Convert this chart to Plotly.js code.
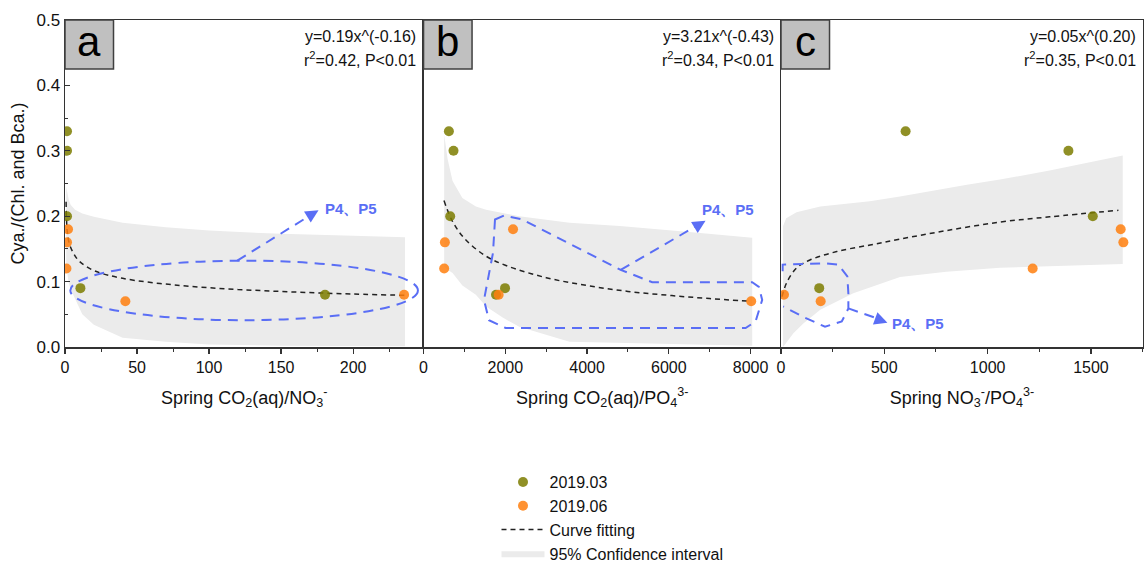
<!DOCTYPE html>
<html>
<head>
<meta charset="utf-8">
<script src="https://cdn.plot.ly/plotly-3.0.1.min.js"></script>
<style>html,body{margin:0;padding:0;background:#fff;}#chart{width:1144px;height:561px;}</style>
</head>
<body>
<div id="chart"></div>
<script>
// ---------- Panel a : Spring CO2(aq)/NO3- ----------
const aOliveX = [1.4, 1.4, 1.4, 10.7, 180.5];
const aOliveY = [0.33, 0.30, 0.20, 0.09, 0.08];
const aOrangeX = [2.1, 1.4, 1.0, 41.9, 235.4];
const aOrangeY = [0.18, 0.16, 0.12, 0.07, 0.08];
const aFitX = [0.75, 1.5, 3, 6, 10, 20, 40, 80, 120, 160, 200, 236];
const aFitY = [0.222, 0.178, 0.158, 0.143, 0.131, 0.117, 0.105, 0.094, 0.088, 0.084, 0.081, 0.079];
const aBandX = [0.8, 1.5, 2.6, 4, 7, 12, 20, 40, 70, 100, 150, 200, 236];
const aBandUp = [0.245, 0.238, 0.225, 0.217, 0.210, 0.204, 0.199, 0.190, 0.183, 0.178, 0.173, 0.170, 0.168];
const aBandLo = [0.125, 0.113, 0.098, 0.088, 0.073, 0.050, 0.034, 0.014, 0.008, 0.004, 0.002, 0.001, 0.001];

// ---------- Panel b : Spring CO2(aq)/PO4 3- ----------
const bOliveX = [620, 733, 652, 1993, 1773];
const bOliveY = [0.33, 0.30, 0.20, 0.09, 0.08];
const bOrangeX = [522, 505, 2189, 1837, 8015];
const bOrangeY = [0.16, 0.12, 0.18, 0.08, 0.07];
const bFitX = [500, 700, 1000, 1500, 2000, 3000, 4000, 5000, 6000, 7000, 8000];
const bFitY = [0.224, 0.193, 0.166, 0.140, 0.125, 0.106, 0.094, 0.085, 0.079, 0.074, 0.070];
const bBandX = [505, 590, 710, 950, 1280, 1530, 1935, 2340, 3570, 4800, 6500, 8040];
const bBandUp = [0.325, 0.287, 0.254, 0.228, 0.215, 0.210, 0.205, 0.200, 0.190, 0.185, 0.176, 0.167];
const bBandLo = [0.123, 0.118, 0.113, 0.094, 0.080, 0.062, 0.045, 0.031, 0.008, 0.006, 0.004, 0.002];

// ---------- Panel c : Spring NO3-/PO4 3- ----------
const cOliveX = [603, 1391, 1509, 185];
const cOliveY = [0.33, 0.30, 0.20, 0.09];
const cOrangeX = [1644, 1657, 1218, 192, 14.5];
const cOrangeY = [0.18, 0.16, 0.12, 0.07, 0.08];
const cFitX = [5, 27, 76, 140, 270, 431, 576, 800, 1060, 1300, 1633];
const cFitY = [0.077, 0.098, 0.121, 0.133, 0.146, 0.156, 0.165, 0.178, 0.191, 0.199, 0.209];
const cBandUpX = [10, 25, 75, 190, 430, 576, 900, 1060, 1300, 1654];
const cBandUp = [0.185, 0.197, 0.206, 0.215, 0.223, 0.230, 0.248, 0.256, 0.270, 0.293];
const cBandLoX = [10, 60, 108, 190, 350, 576, 800, 1060, 1300, 1654];
const cBandLo = [0.0, 0.021, 0.036, 0.057, 0.082, 0.107, 0.115, 0.121, 0.124, 0.127];

// ---------- text ----------
const panelLetters = ['a', 'b', 'c'];
const eqText = ['y=0.19x^(-0.16)', 'y=3.21x^(-0.43)', 'y=0.05x^(0.20)'];
const statText = ['r<sup>2</sup>=0.42, P<0.01', 'r<sup>2</sup>=0.34, P<0.01', 'r<sup>2</sup>=0.35, P<0.01'];
const xTitles = ['Spring CO<sub>2</sub>(aq)/NO<sub>3</sub><sup>-</sup>',
                 'Spring CO<sub>2</sub>(aq)/PO<sub>4</sub><sup>3-</sup>',
                 'Spring NO<sub>3</sub><sup>-</sup>/PO<sub>4</sub><sup>3-</sup>'];
const yTitle = 'Cya./(Chl. and Bca.)';
const seriesNames = ['2019.03', '2019.06', 'Curve fitting', '95% Confidence interval'];
const markLabel = 'P4、P5';

const OLIVE = '#7d7d00', ORANGE = '#ff7f0e', BAND = '#ebebeb', BLUE = '#5a6ef5', AX = '#333333';

function band(xu, yu, xl, yl, xa, ya, show) {
  return {x: xu.concat(xl.slice().reverse()), y: yu.concat(yl.slice().reverse()),
    xaxis: xa, yaxis: ya, type: 'scatter', mode: 'lines', fill: 'toself', fillcolor: BAND,
    line: {width: 0, color: BAND}, name: seriesNames[3], legendgroup: 'ci', showlegend: show,
    legendrank: 4, hoverinfo: 'skip'};
}
function fit(x, y, xa, ya, show) {
  return {x: x, y: y, xaxis: xa, yaxis: ya, type: 'scatter', mode: 'lines',
    line: {color: '#222', width: 1.5, dash: '5px,4px', shape: 'spline'}, name: seriesNames[2],
    legendgroup: 'fit', showlegend: show, legendrank: 3};
}
function pts(x, y, color, name, rank, xa, ya, show) {
  return {x: x, y: y, xaxis: xa, yaxis: ya, type: 'scatter', mode: 'markers',
    marker: {color: color, size: 10, opacity: 0.85}, name: name, legendgroup: name,
    showlegend: show, legendrank: rank};
}

const data = [
  band(aBandX, aBandUp, aBandX, aBandLo, 'x', 'y', true),
  band(bBandX, bBandUp, bBandX, bBandLo, 'x2', 'y2', false),
  band(cBandUpX, cBandUp, cBandLoX, cBandLo, 'x3', 'y3', false),
  fit(aFitX, aFitY, 'x', 'y', true),
  fit(bFitX, bFitY, 'x2', 'y2', false),
  fit(cFitX, cFitY, 'x3', 'y3', false),
  pts(aOliveX, aOliveY, OLIVE, seriesNames[0], 1, 'x', 'y', true),
  pts(aOrangeX, aOrangeY, ORANGE, seriesNames[1], 2, 'x', 'y', true),
  pts(bOliveX, bOliveY, OLIVE, seriesNames[0], 1, 'x2', 'y2', false),
  pts(bOrangeX, bOrangeY, ORANGE, seriesNames[1], 2, 'x2', 'y2', false),
  pts(cOliveX, cOliveY, OLIVE, seriesNames[0], 1, 'x3', 'y3', false),
  pts(cOrangeX, cOrangeY, ORANGE, seriesNames[1], 2, 'x3', 'y3', false)
];

const doms = [[0, 0.3326], [0.3326, 0.6642], [0.6642, 1]];
const ranges = [[0, 248.9], [0, 8744], [0, 1752]];
const dticks = [50, 2000, 500];

function xax(i) {
  return {domain: doms[i], range: ranges[i], dtick: dticks[i], tick0: 0, anchor: i === 0 ? 'y' : 'y' + (i + 1),
    showgrid: false, zeroline: false, showline: true, linecolor: AX, linewidth: 1.5, mirror: true,
    ticks: 'outside', ticklen: 5, tickwidth: 1.2, tickcolor: AX,
    minor: {ticks: 'outside', dtick: dticks[i] / 2, ticklen: 3, tickwidth: 1, tickcolor: AX},
    tickfont: {size: 16, color: '#111'},
    title: {text: xTitles[i], font: {size: 18, color: '#111'}, standoff: 16}};
}
function yax(i) {
  const base = {range: [0, 0.5], anchor: i === 0 ? 'x' : 'x' + (i + 1), showgrid: false, zeroline: false,
    showline: true, linecolor: AX, linewidth: 1.5};
  if (i === 0) {
    Object.assign(base, {dtick: 0.1, tick0: 0, tickformat: '.1f', ticks: 'inside', ticklen: 5, tickwidth: 1.2,
      tickcolor: AX, minor: {ticks: 'inside', dtick: 0.05, ticklen: 3, tickwidth: 1, tickcolor: AX},
      tickfont: {size: 17, color: '#111'}});
  } else {
    Object.assign(base, {matches: 'y', showticklabels: false, ticks: '', mirror: i === 2});
  }
  return base;
}

// Panel letter boxes and equation annotations (paper coords)
const shapes = [];
const annotations = [];
const boxW = 0.045, boxH = 0.150;
panelLetters.forEach((L, i) => {
  const x0 = doms[i][0];
  shapes.push({type: 'rect', xref: 'paper', yref: 'paper', x0: x0, x1: x0 + boxW, y0: 1 - boxH, y1: 1,
    fillcolor: '#c0c0c0', line: {color: '#404040', width: 1.5}, layer: 'above'});
  annotations.push({xref: 'paper', yref: 'paper', x: x0 + boxW / 2, y: 1 - boxH / 2 + 0.008, text: L,
    showarrow: false, font: {size: 42, color: '#000'}, xanchor: 'center', yanchor: 'middle'});
  annotations.push({xref: 'paper', yref: 'paper', x: doms[i][1] - 0.005, y: 0.95, text: eqText[i],
    showarrow: false, font: {size: 16, color: '#111'}, xanchor: 'right', yanchor: 'middle'});
  annotations.push({xref: 'paper', yref: 'paper', x: doms[i][1] - 0.005, y: 0.882, text: statText[i],
    showarrow: false, font: {size: 16, color: '#111'}, xanchor: 'right', yanchor: 'middle'});
});
// y-axis title as rotated annotation
annotations.push({xref: 'paper', yref: 'paper', x: -0.0436, y: 0.5, text: yTitle, textangle: -90,
  showarrow: false, font: {size: 18, color: '#111'}, xanchor: 'center', yanchor: 'middle'});

const blueLine = {color: BLUE, width: 2, dash: '10px,7px'};
// Panel a: ellipse around P4, P5 and arrow
shapes.push({type: 'circle', xref: 'x', yref: 'y', x0: 3.7, x1: 245, y0: 0.041, y1: 0.132, line: blueLine});
shapes.push({type: 'line', xref: 'x', yref: 'y', x0: 119.6, y0: 0.132, x1: 170, y1: 0.201, line: blueLine});
// Panel b: polygon and arrow
shapes.push({type: 'path', xref: 'x2', yref: 'y2', line: blueLine,
  path: 'M1748,0.195 L1699,0.144 L1479,0.072 L1601,0.041 L2010,0.029 L7878,0.029 L8122,0.039 L8284,0.072 L8203,0.092 L8039,0.099 L5594,0.099 L4822,0.118 L2416,0.195 L1968,0.201 Z'});
shapes.push({type: 'line', xref: 'x2', yref: 'y2', x0: 4822, y0: 0.118, x1: 6700, y1: 0.186, line: blueLine});
// Panel c: polygon and arrow
shapes.push({type: 'path', xref: 'x3', yref: 'y3', line: blueLine,
  path: 'M8,0.116 L8,0.126 L205,0.128 L277,0.126 L321,0.108 L326,0.082 L326,0.059 L294,0.039 L213,0.031 L108,0.046 L11,0.062'});
shapes.push({type: 'line', xref: 'x3', yref: 'y3', x0: 326, y0: 0.059, x1: 490, y1: 0.041, line: blueLine});

// arrow heads
annotations.push({xref: 'x', yref: 'y', x: 176, y: 0.209, ax: -10, ay: 6, text: '', showarrow: true,
  arrowhead: 2, arrowsize: 1.3, arrowwidth: 2, arrowcolor: BLUE});
annotations.push({xref: 'x2', yref: 'y2', x: 6898, y: 0.193, ax: -10, ay: 6, text: '', showarrow: true,
  arrowhead: 2, arrowsize: 1.3, arrowwidth: 2, arrowcolor: BLUE});
annotations.push({xref: 'x3', yref: 'y3', x: 515, y: 0.037, ax: -11, ay: -4, text: '', showarrow: true,
  arrowhead: 2, arrowsize: 1.3, arrowwidth: 2, arrowcolor: BLUE});
// P4、P5 labels
[['x', 'y', 179, 0.212], ['x2', 'y2', 6758, 0.211], ['x3', 'y3', 528, 0.036]].forEach(p => {
  annotations.push({xref: p[0], yref: p[1], x: p[2], y: p[3], text: '<b>' + markLabel + '</b>', showarrow: false,
    xanchor: 'left', yanchor: 'middle', font: {size: 15, color: BLUE}});
});

const layout = {
  width: 1144, height: 561,
  margin: {l: 65, r: 1, t: 20, b: 214, autoexpand: false},
  paper_bgcolor: '#ffffff', plot_bgcolor: '#ffffff',
  font: {family: '"Liberation Sans", Arial, sans-serif', size: 16, color: '#111'},
  showlegend: true,
  legend: {xref: 'container', yref: 'container', x: 0.434, xanchor: 'left', y: 0.171, yanchor: 'top',
    font: {size: 16, color: '#111'}, bgcolor: 'rgba(0,0,0,0)', tracegroupgap: 0, itemwidth: 43,
    traceorder: 'normal'},
  xaxis: xax(0), xaxis2: xax(1), xaxis3: xax(2),
  yaxis: yax(0), yaxis2: yax(1), yaxis3: yax(2),
  shapes: shapes, annotations: annotations
};

Plotly.newPlot('chart', data, layout, {displayModeBar: false, staticPlot: true});
</script>
</body>
</html>
